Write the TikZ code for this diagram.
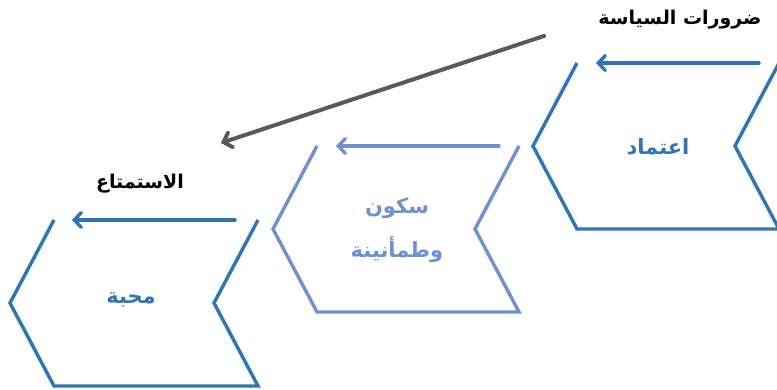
\documentclass[tikz,border=0pt]{standalone}
\usepackage{fontspec}
\TeXXeTstate=1
\newfontfamily\arabicfont[Script=Arabic]{DejaVu Sans}
\usetikzlibrary{arrows.meta}
\definecolor{dblue}{RGB}{46,117,182}
\definecolor{lblue}{RGB}{111,145,208}
\definecolor{dgray}{RGB}{89,89,89}
\tikzset{
  chev/.style={line width=3.4pt, line join=miter},
  flow/.style={line width=3.4pt, line cap=round, -{Straight Barb[length=7pt,width=15pt,line cap=round]}},
  artext/.style={font=\arabicfont\bfseries\fontsize{21}{44}\selectfont, inner sep=0pt, align=center},
  lbltext/.style={font=\arabicfont\bfseries\fontsize{19}{24}\selectfont, inner sep=0pt, text=black},
}
\begin{document}
\begin{tikzpicture}[x=1pt,y=-1pt]
\useasboundingbox (0,0) rectangle (777,390);
\clip (0,0) rectangle (777,390);
% shapes
\draw[chev, dblue] (577,63) -- (533,146) -- (577,229) -- (779,229) -- (735,146) -- (779,63);
\draw[chev, lblue] (317,146) -- (273,229) -- (317,312) -- (519,312) -- (475,229) -- (519,146);
\draw[chev, dblue] (54,220) -- (10,303) -- (54,386) -- (258,386) -- (214,303) -- (258,220);
% coordinates
\coordinate (a1s) at (759,63);
\coordinate (a1e) at (596,63);
\coordinate (a2s) at (499,146);
\coordinate (a2e) at (336,146);
\coordinate (a3s) at (235,220);
\coordinate (a3e) at (72,220);
\coordinate (gs) at (544,36);
\coordinate (ge) at (221,143);
\draw[flow, dblue] (a1s) -- (a1e);
\draw[flow, lblue] (a2s) -- (a2e);
\draw[flow, dblue] (a3s) -- (a3e);
\draw[flow, dgray, line width=4pt] (gs) -- (ge);
% texts
\node[artext, text=dblue] (t1) at (658,147) {\beginR اعتماد\endR};
\node[artext, text=lblue] (t2) at (397,230) {\beginR سكون\endR\\ \beginR وطمأنينة\endR};
\node[artext, text=dblue] (t3) at (131,300) {\beginR محبة\endR};
\node[lbltext] (l1) at (680,20) {\beginR ضرورات السياسة\endR};
\node[lbltext] (l3) at (140,184) {\beginR الاستمتاع\endR};
\end{tikzpicture}
\end{document}
